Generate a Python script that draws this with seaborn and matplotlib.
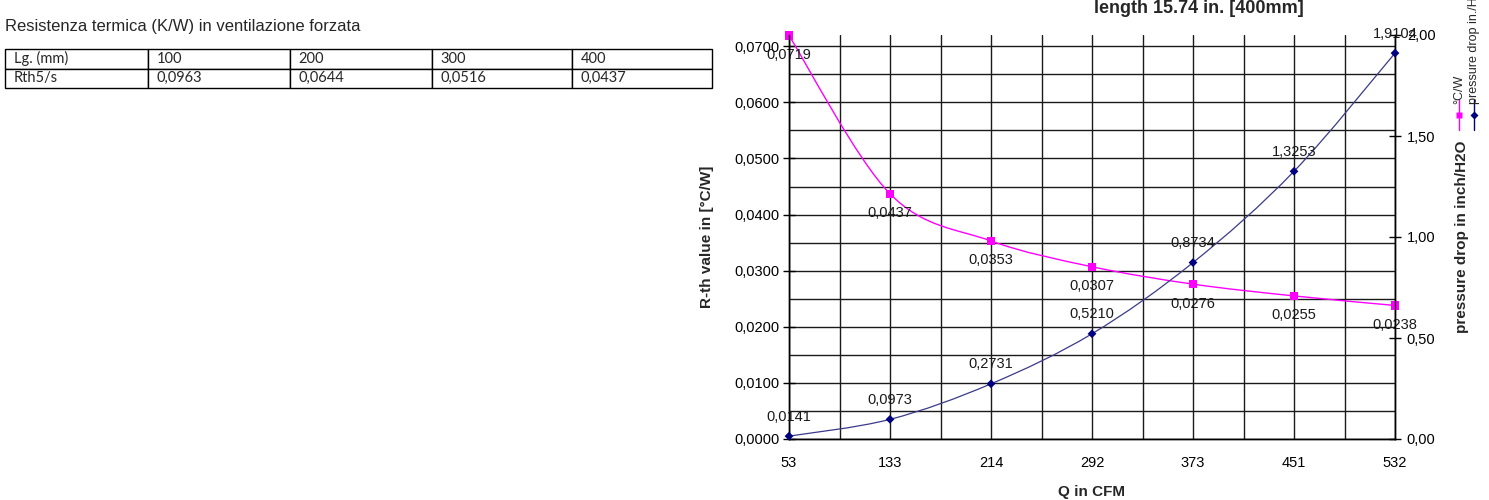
import matplotlib
matplotlib.use('Agg')
import matplotlib.pyplot as plt
from matplotlib.path import Path
from matplotlib.patches import PathPatch
from matplotlib.lines import Line2D
from matplotlib.ticker import FuncFormatter, MultipleLocator
import numpy as np
import pandas as pd
import seaborn as sns

# data
cfm = [53, 133, 214, 292, 373, 451, 532]
rth = [0.0719, 0.0437, 0.0353, 0.0307, 0.0276, 0.0255, 0.0238]
pressure = [0.0141, 0.0973, 0.2731, 0.5210, 0.8734, 1.3253, 1.9104]

# small table on the left
table_header = ['Lg. (mm)', '100', '200', '300', '400']
table_row = ['Rth5/s', '0,0963', '0,0644', '0,0516', '0,0437']

PINK = '#FF00FF'
NAVY = '#000080'

df = pd.DataFrame({'cfm': cfm, 'rth': rth, 'pressure': pressure})
df['pos'] = np.arange(len(df))  # categories evenly spaced like Excel


def comma(v, nd):
    return f"{v:.{nd}f}".replace('.', ',')


def smooth_path(xs, ys):
    # Excel style smoothed line: bezier segments through the data points
    pts = list(zip(xs, ys))
    n = len(pts)
    verts = [pts[0]]
    codes = [Path.MOVETO]
    for i in range(n - 1):
        p0 = pts[max(i - 1, 0)]
        p1 = pts[i]
        p2 = pts[i + 1]
        p3 = pts[min(i + 2, n - 1)]
        c1 = (p1[0] + (p2[0] - p0[0]) / 6, p1[1] + (p2[1] - p0[1]) / 6)
        c2 = (p2[0] - (p3[0] - p1[0]) / 6, p2[1] - (p3[1] - p1[1]) / 6)
        verts += [c1, c2, p2]
        codes += [Path.CURVE4] * 3
    return Path(verts, codes)


sns.set_style('white')
plt.rcParams['font.family'] = ['Liberation Sans', 'DejaVu Sans']

fig = plt.figure(figsize=(14.89, 5), dpi=100)

# ---- left side: title + table
fig.text(5 / 1489, 1 - 27 / 500, 'Resistenza termica (K/W) in ventilazione forzata',
         fontsize=12, va='center', ha='left')

tax = fig.add_axes([5 / 1489, 1 - 88 / 500, 707 / 1489, 39 / 500])
tax.axis('off')
widths = np.array([143, 142, 142, 140, 140], dtype=float)
tbl = tax.table(cellText=[table_header, table_row], colWidths=list(widths / widths.sum()),
                cellLoc='left', bbox=[0, 0, 1, 1])
tbl.auto_set_font_size(False)
tbl.set_fontsize(10.5)
for cell in tbl.get_celld().values():
    cell.set_linewidth(1.0)
    cell.set_edgecolor('black')
    cell.PAD = 0.06
    cell.get_text().set_fontfamily(['Lato', 'DejaVu Sans'])

# ---- right side: chart
ax = fig.add_axes([789 / 1489, 61 / 500, 606 / 1489, 404 / 500])
ax2 = ax.twinx()

ax.add_patch(PathPatch(smooth_path(df['pos'], df['rth']), fill=False,
                       edgecolor=PINK, lw=1.0, zorder=3))
sns.scatterplot(data=df, x='pos', y='rth', ax=ax, marker='s', color=PINK,
                s=36, edgecolor='none', zorder=4, clip_on=False, legend=False)

ax2.add_patch(PathPatch(smooth_path(df['pos'], df['pressure']), fill=False,
                        edgecolor='#3a3a8a', lw=0.9, zorder=3))
sns.scatterplot(data=df, x='pos', y='pressure', ax=ax2, marker='D', color=NAVY,
                s=20, edgecolor='none', zorder=4, clip_on=False, legend=False)

for x, y in zip(df['pos'], df['rth']):
    ax.annotate(comma(y, 4), (x, y), xytext=(0, -14), textcoords='offset points',
                ha='center', va='center', fontsize=10.5, color='#1a1a1a',
                annotation_clip=False)
for x, y in zip(df['pos'], df['pressure']):
    ax2.annotate(comma(y, 4), (x, y), xytext=(0, 14), textcoords='offset points',
                 ha='center', va='center', fontsize=10.5, color='#1a1a1a',
                 annotation_clip=False)

ax.set_xlim(0, 6)
ax.set_ylim(0, 0.072)
ax2.set_ylim(0, 2.0)

ax.set_xticks(df['pos'], labels=[str(c) for c in df['cfm']])
ax.set_xticks(np.arange(0.5, 6, 1.0), minor=True)
ax.set_yticks(np.arange(0, 0.0701, 0.01))
ax.set_yticks(np.arange(0.005, 0.0701, 0.01), minor=True)
ax.yaxis.set_major_formatter(FuncFormatter(lambda v, p: comma(v, 4)))
ax2.yaxis.set_major_locator(MultipleLocator(0.5))
ax2.yaxis.set_major_formatter(FuncFormatter(lambda v, p: comma(v, 2)))

ax.grid(which='both', color='#1a1a1a', lw=1.0)
ax.set_axisbelow(True)

ax.tick_params(axis='x', which='both', direction='out', length=5, width=1,
               colors='black', labelsize=10.5, pad=7)
ax.tick_params(axis='y', which='major', direction='inout', length=8, width=1,
               colors='black', labelsize=10.5, pad=3)
ax.tick_params(axis='y', which='minor', length=0)
ax2.tick_params(axis='y', direction='inout', length=9, width=1,
                colors='black', labelsize=10.5, pad=4)

for a in (ax, ax2):
    a.spines['top'].set_visible(False)
    for s in ('left', 'right', 'bottom'):
        a.spines[s].set_color('black')
        a.spines[s].set_linewidth(1.0)

ax.set_xlabel('Q in CFM', fontsize=11, fontweight='bold')
ax.set_ylabel('R-th value in [°C/W]', fontsize=11, fontweight='bold')
ax2.set_ylabel('pressure drop in inch/H2O', fontsize=11, fontweight='bold')
ax.xaxis.set_label_coords(0.5, -0.114)
ax.yaxis.set_label_coords(-0.124, 0.5)
ax2.yaxis.set_label_coords(1.099, 0.5)

fig.text(1199 / 1489, 1 - 13 / 500, 'length 15.74 in. [400mm]', fontsize=13,
         fontweight='bold', ha='center', va='baseline')

# rotated legend at the far right, as in the original sheet
for xpx, mk, col, ms, label in [(1459, 's', PINK, 5, '°C/W'),
                                (1474, 'D', NAVY, 4, 'pressure drop in./H2O')]:
    xf = xpx / 1489
    fig.add_artist(Line2D([xf, xf, xf], [1 - 100 / 500, 1 - 115 / 500, 1 - 130 / 500],
                          transform=fig.transFigure, color=col, lw=1.0,
                          marker=mk, markevery=[1], markersize=ms,
                          markeredgecolor='none'))
    fig.text(xf, 1 - 104 / 500, label, rotation=90, rotation_mode='anchor',
             ha='left', va='center', fontsize=9)

fig.savefig('out.png', dpi=100)
